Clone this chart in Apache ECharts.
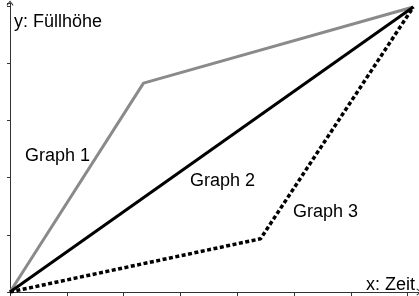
<!DOCTYPE html>
<html>
<head>
<meta charset="utf-8">
<script src="https://cdn.jsdelivr.net/npm/echarts@6/dist/echarts.min.js"></script>
<style>
  html, body { margin: 0; padding: 0; background: #fff; }
  #chart { width: 419px; height: 296px; }
</style>
</head>
<body>
<div id="chart"></div>
<script>
// Füllhöhe über Zeit – drei Gefäße
const graph1X = [0, 2.35, 7.1];
const graph1Y = [0, 3.65, 4.98];
const graph2X = [0, 7.1];
const graph2Y = [0, 4.98];
const graph3X = [0, 4.41, 7.1];
const graph3Y = [0, 0.93, 4.98];

const labelNames = ['Graph 1', 'Graph 2', 'Graph 3'];
const axisNameX = 'x: Zeit';
const axisNameY = 'y: Füllhöhe';

const FONT = '"Liberation Sans", Arial, sans-serif';
const AXIS = '#333333';

function pairs(xs, ys) {
  return xs.map((x, i) => [x, ys[i]]);
}

const arrowPath = 'path://M5,0L10,6.5L8.8,7.5L5,2.2L1.2,7.5L0,6.5Z';

const chart = echarts.init(document.getElementById('chart'));

// baseline in Pixel -> top der Textbox
function text(str, x, baseline) {
  return {
    type: 'text',
    left: x,
    top: baseline - 14,
    style: { text: str, fill: '#000', font: '18px ' + FONT },
    silent: true
  };
}

chart.setOption({
  animation: false,
  grid: { left: 10, right: -3, top: 3, bottom: 4 },
  xAxis: {
    type: 'value',
    min: 0,
    max: 7.2,
    interval: 1,
    axisLine: { show: true, lineStyle: { color: AXIS, width: 1 }, symbol: ['none', arrowPath], symbolSize: [7, 7] },
    axisTick: { show: true, length: 4, lineStyle: { color: AXIS } },
    axisLabel: { show: false },
    splitLine: { show: false }
  },
  yAxis: {
    type: 'value',
    min: 0,
    max: 5.05,
    interval: 1,
    axisLine: { show: true, lineStyle: { color: AXIS, width: 1 }, symbol: ['none', arrowPath], symbolSize: [7, 7] },
    axisTick: { show: true, length: 3, lineStyle: { color: AXIS } },
    axisLabel: { show: false },
    splitLine: { show: false }
  },
  series: [
    {
      name: labelNames[0],
      type: 'line',
      data: pairs(graph1X, graph1Y),
      showSymbol: false,
      lineStyle: { color: '#8a8a8a', width: 3 }
    },
    {
      name: labelNames[2],
      type: 'line',
      data: pairs(graph3X, graph3Y),
      showSymbol: false,
      lineStyle: { color: '#000', width: 3.5, type: [4, 2.5] }
    },
    {
      name: labelNames[1],
      type: 'line',
      data: pairs(graph2X, graph2Y),
      showSymbol: false,
      lineStyle: { color: '#000', width: 3 }
    }
  ],
  graphic: [
    text(axisNameY, 14, 27),
    text(axisNameX, 366, 290),
    text(labelNames[0], 25, 161),
    text(labelNames[1], 190, 186),
    text(labelNames[2], 293, 217)
  ]
});
</script>
</body>
</html>
